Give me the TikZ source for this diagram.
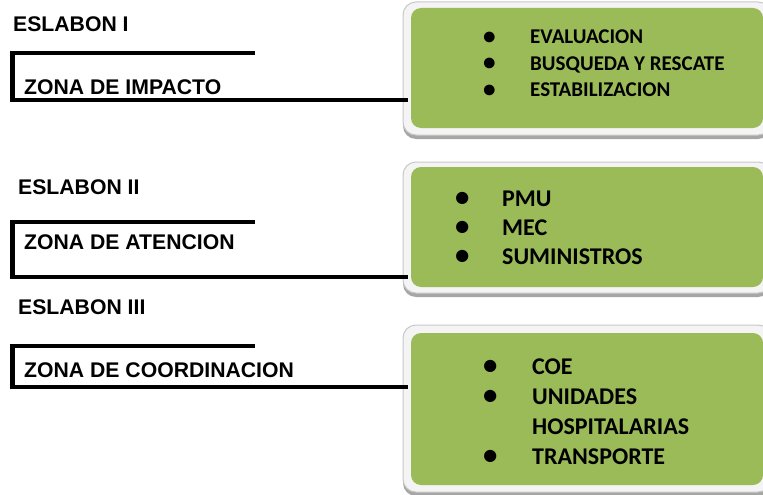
\documentclass[tikz,border=0pt]{standalone}
\usepackage{fontspec}
\setmainfont{Liberation Sans}
\newfontfamily\calibri{Carlito}
\usepackage{tikz}
\usetikzlibrary{positioning, calc, shadows}
\definecolor{boxgreen}{HTML}{9BBB59}
\definecolor{framegray}{HTML}{F4F4F4}
\definecolor{edgegray}{HTML}{C8C8C8}
\definecolor{shadowgray}{HTML}{A6A6A6}
\newcommand{\bigbul}{\smash{\raisebox{-0.4pt}{\scalebox{1.2}{\textbullet}}}}

\begin{document}
\begin{tikzpicture}
    [x=1pt, y=-1pt,
    link label/.style={anchor=base west, inner sep=0pt, font=\bfseries\fontsize{21.2}{24}\selectfont},
    zone line/.style={line width=4.6pt},
    frame box/.style={draw=edgegray, fill=framegray, line width=1pt, rounded corners=13pt, inner sep=0pt,
      drop shadow={shadow xshift=0pt, shadow yshift=-4pt, fill=shadowgray, opacity=1}},
    green box/.style={fill=boxgreen, rounded corners=10pt, inner sep=0pt},
    task list/.style={anchor=base west, inner sep=0pt}]
    \useasboundingbox (0,0) rectangle (763,495);

    \node[frame box, minimum width=368pt, minimum height=133pt] (f1) at (587,68.5) {};
    \node[green box, minimum width=352pt, minimum height=120pt] (b1) at (587,68) {};
    \node[frame box, minimum width=368pt, minimum height=131pt] (f2) at (587,227.5) {};
    \node[green box, minimum width=352pt, minimum height=120pt] (b2) at (587,227) {};
    \node[frame box, minimum width=368pt, minimum height=167pt] (f3) at (587,408.5) {};
    \node[green box, minimum width=352pt, minimum height=152pt] (b3) at (587,409) {};

    \node[task list] (l1) at (483,44) {\calibri\bfseries\fontsize{21}{26.5}\selectfont
      \begin{tabular}[t]{@{}p{47pt}@{}l@{}}
        \bigbul & EVALUACION\\
        \bigbul & BUSQUEDA Y RESCATE\\
        \bigbul & ESTABILIZACION
      \end{tabular}};
    \node[task list] (l2) at (455,206.5) {\calibri\bfseries\fontsize{24}{29}\selectfont
      \begin{tabular}[t]{@{}p{47pt}@{}l@{}}
        \bigbul & PMU\\
        \bigbul & MEC\\
        \bigbul & SUMINISTROS
      \end{tabular}};
    \node[task list] (l3) at (483,374.5) {\calibri\bfseries\fontsize{24}{30}\selectfont
      \begin{tabular}[t]{@{}p{49pt}@{}l@{}}
        \bigbul & COE\\
        \bigbul & UNIDADES\\
                & HOSPITALARIAS\\
        \bigbul & TRANSPORTE
      \end{tabular}};

    \node[link label] (e1) at (13,32) {ESLABON I};
    \node[link label] (z1) at (24,94) {ZONA DE IMPACTO};
    \node[link label] (e2) at (18,194) {ESLABON II};
    \node[link label] (z2) at (24,249) {ZONA DE ATENCION};
    \node[link label] (e3) at (18,314) {ESLABON III};
    \node[link label] (z3) at (24,377) {ZONA DE COORDINACION};

    \coordinate (t1) at (255,53);
    \coordinate (c1) at (12.5,100);
    \coordinate (t2) at (255,222);
    \coordinate (c2) at (12.5,277);
    \coordinate (t3) at (255,346);
    \coordinate (c3) at (12.5,387);
    \draw[zone line, shorten >=3pt] (t1) -| (c1) -- (c1 -| b1.west);
    \draw[zone line, shorten >=3pt] (t2) -| (c2) -- (c2 -| b2.west);
    \draw[zone line, shorten >=3pt] (t3) -| (c3) -- (c3 -| b3.west);
  \end{tikzpicture}
\end{document}
